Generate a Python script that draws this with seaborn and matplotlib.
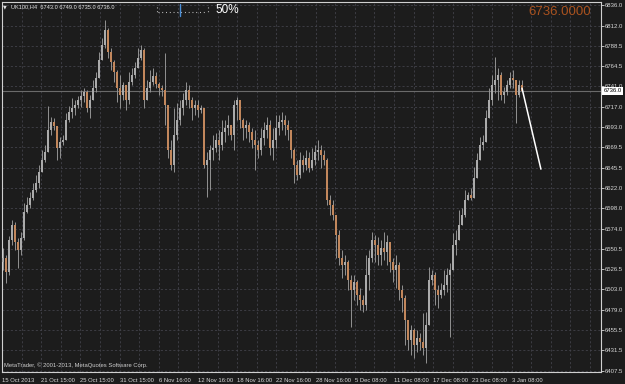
import numpy as np
import pandas as pd
import matplotlib
matplotlib.use("Agg")
import matplotlib.pyplot as plt
import matplotlib.transforms as mtrans
from matplotlib.lines import Line2D
import seaborn as sns

# ---------------- data ----------------
first_open = 6535.0
closes = [
    6540.0, 6523.5, 6561.0, 6578.5, 6558.5, 6549.0, 6563.5, 6594.0, 6602.0, 6610.0,
    6619.5, 6628.0, 6640.5, 6655.0, 6664.0, 6690.0, 6699.5, 6694.5, 6669.0, 6676.0,
    6678.0, 6701.5, 6711.0, 6716.0, 6719.5, 6725.0, 6730.0, 6734.5, 6716.0, 6725.0,
    6739.0, 6751.0, 6772.0, 6789.5, 6807.5, 6781.5, 6770.0, 6758.0, 6739.0, 6731.0,
    6743.0, 6725.0, 6746.5, 6754.5, 6762.5, 6774.5, 6784.0, 6725.0, 6739.0, 6746.5,
    6753.5, 6744.0, 6739.0, 6737.0, 6719.5, 6666.5, 6649.0, 6684.0, 6701.5, 6716.0,
    6725.0, 6737.0, 6725.0, 6716.0, 6719.5, 6713.5, 6716.0, 6649.0, 6655.0, 6666.5,
    6669.0, 6678.0, 6672.5, 6687.5, 6692.5, 6696.0, 6684.0, 6719.5, 6725.0, 6701.5,
    6692.5, 6696.0, 6687.5, 6678.0, 6672.5, 6666.5, 6680.5, 6690.0, 6696.0, 6669.0,
    6678.0, 6692.5, 6699.5, 6701.5, 6696.0, 6690.0, 6666.5, 6649.0, 6637.0, 6655.0,
    6649.0, 6657.0, 6645.5, 6655.0, 6664.0, 6666.5, 6660.5, 6655.0, 6608.0, 6602.0,
    6590.0, 6567.0, 6540.0, 6531.5, 6535.0, 6514.0, 6502.0, 6511.5, 6496.5, 6490.5,
    6484.5, 6520.0, 6540.0, 6561.0, 6555.0, 6543.5, 6551.5, 6547.0, 6558.5, 6535.0,
    6525.5, 6531.5, 6502.0, 6493.0, 6467.0, 6443.5, 6455.5, 6437.5, 6446.0, 6441.0,
    6434.0, 6461.0, 6514.0, 6520.0, 6502.0, 6496.5, 6502.0, 6508.0, 6520.0, 6525.5,
    6555.0, 6561.0, 6578.5, 6590.0, 6608.0, 6613.5, 6610.0, 6633.5, 6655.0, 6672.5,
    6676.0, 6704.0, 6725.0, 6743.0, 6748.5, 6754.5, 6731.0, 6734.5, 6743.0, 6751.0,
    6748.5, 6731.0, 6743.0, 6736.0,
]
highs = [
    6551.5, 6543.5, 6565.5, 6584.5, 6582.0, 6563.5, 6570.5, 6604.5, 6611.5, 6617.0,
    6628.0, 6637.0, 6649.0, 6666.5, 6672.5, 6718.0, 6705.0, 6704.0, 6682.0, 6682.0,
    6684.0, 6710.0, 6718.0, 6727.5, 6725.0, 6730.0, 6737.0, 6739.0, 6737.0, 6731.0,
    6748.5, 6758.0, 6781.5, 6798.0, 6819.0, 6809.5, 6786.0, 6772.0, 6760.5, 6754.5,
    6746.5, 6743.0, 6758.0, 6762.5, 6770.0, 6786.0, 6789.5, 6786.0, 6748.5, 6760.5,
    6762.5, 6758.0, 6746.5, 6743.0, 6780.5, 6713.5, 6678.0, 6716.0, 6721.5, 6725.0,
    6733.5, 6746.5, 6743.0, 6729.0, 6725.0, 6725.0, 6719.5, 6696.0, 6664.0, 6672.5,
    6684.0, 6686.5, 6690.0, 6701.5, 6701.5, 6707.5, 6696.0, 6725.0, 6729.0, 6725.0,
    6704.0, 6701.5, 6699.5, 6692.5, 6690.0, 6678.0, 6692.5, 6699.5, 6705.0, 6701.5,
    6692.5, 6707.5, 6707.5, 6711.0, 6707.5, 6701.5, 6690.0, 6669.0, 6655.0, 6664.0,
    6660.5, 6666.5, 6664.0, 6669.0, 6672.5, 6678.0, 6672.5, 6666.5, 6657.0, 6613.5,
    6608.0, 6590.0, 6572.5, 6549.0, 6543.5, 6537.5, 6520.0, 6520.0, 6514.0, 6504.5,
    6496.5, 6543.5, 6549.0, 6570.5, 6567.0, 6564.5, 6561.0, 6570.5, 6567.0, 6558.5,
    6540.0, 6543.5, 6535.0, 6508.0, 6496.5, 6461.0, 6461.0, 6457.5, 6455.5, 6452.0,
    6475.5, 6476.5, 6529.0, 6525.5, 6523.5, 6508.0, 6510.5, 6525.5, 6528.0, 6534.0,
    6569.0, 6572.5, 6596.0, 6598.5, 6619.5, 6617.0, 6622.0, 6646.5, 6663.0, 6682.0,
    6684.0, 6713.5, 6739.0, 6754.5, 6775.5, 6762.5, 6758.0, 6740.5, 6748.5, 6758.0,
    6760.5, 6743.0, 6748.5, 6749.0,
]
lows = [
    6525.5, 6510.5, 6520.0, 6555.0, 6549.0, 6528.0, 6543.5, 6561.0, 6592.5, 6598.5,
    6608.0, 6617.0, 6622.0, 6643.0, 6652.5, 6666.5, 6684.0, 6690.0, 6655.0, 6657.0,
    6672.5, 6680.5, 6699.5, 6704.0, 6707.5, 6716.0, 6717.0, 6723.0, 6711.0, 6704.0,
    6727.5, 6734.5, 6754.5, 6772.0, 6786.0, 6774.5, 6760.5, 6746.5, 6723.0, 6716.0,
    6725.0, 6713.5, 6720.5, 6743.0, 6751.0, 6766.0, 6772.0, 6716.0, 6727.5, 6734.5,
    6743.0, 6739.0, 6731.0, 6730.0, 6696.0, 6657.0, 6643.0, 6640.5, 6678.0, 6696.0,
    6707.5, 6719.5, 6716.0, 6701.5, 6707.5, 6705.0, 6710.0, 6645.5, 6611.5, 6619.5,
    6655.0, 6664.0, 6655.0, 6666.5, 6676.0, 6684.0, 6678.0, 6666.5, 6701.5, 6692.5,
    6678.0, 6680.5, 6676.0, 6669.0, 6643.0, 6657.0, 6660.5, 6672.5, 6680.5, 6660.5,
    6655.0, 6669.0, 6684.0, 6690.0, 6684.0, 6678.0, 6657.0, 6628.0, 6631.5, 6633.5,
    6640.5, 6643.0, 6640.5, 6643.0, 6649.0, 6655.0, 6645.5, 6649.0, 6602.0, 6590.0,
    6584.5, 6540.0, 6531.5, 6516.5, 6520.0, 6502.0, 6459.0, 6490.5, 6484.5, 6479.0,
    6476.5, 6479.0, 6502.0, 6535.0, 6535.0, 6531.5, 6531.5, 6537.5, 6531.5, 6523.5,
    6511.5, 6504.5, 6490.5, 6476.5, 6437.5, 6432.0, 6426.0, 6422.5, 6429.5, 6432.0,
    6426.0, 6416.5, 6467.0, 6508.0, 6484.5, 6481.0, 6493.0, 6496.5, 6500.0, 6447.0,
    6528.0, 6543.5, 6561.0, 6578.5, 6588.0, 6608.0, 6608.0, 6619.5, 6640.5, 6660.5,
    6666.5, 6682.0, 6713.5, 6719.5, 6733.5, 6725.0, 6725.0, 6721.5, 6731.0, 6739.0,
    6739.0, 6698.0, 6729.0, 6735.0,
]

price_ticks = [6836.0, 6812.0, 6788.5, 6764.5, 6741.0, 6717.0, 6693.0, 6669.5,
               6645.5, 6622.0, 6598.0, 6574.0, 6550.5, 6526.5, 6503.0, 6479.0,
               6455.5, 6431.5, 6407.5]
date_labels = ["15 Oct 2013", "21 Oct 15:00", "25 Oct 15:00", "31 Oct 15:00",
               "6 Nov 16:00", "12 Nov 16:00", "18 Nov 16:00", "22 Nov 16:00",
               "28 Nov 16:00", "5 Dec 08:00", "11 Dec 08:00", "17 Dec 08:00",
               "23 Dec 08:00", "3 Jan 08:00"]
bid_price = 6736.0
header_ohlc = "6743.0 6749.0 6735.0 6736.0"
symbol = "UK100,H4"
trend_x = [173.0, 179.3]
trend_y = [6739.0, 6644.0]

# ---------------- frame ----------------
n = len(closes)
opens = [first_open] + closes[:-1]
df = pd.DataFrame({"x": np.arange(n), "open": opens, "high": highs,
                   "low": lows, "close": closes})
df["high"] = df[["high", "open", "close"]].max(axis=1)
df["low"] = df[["low", "open", "close"]].min(axis=1)
df["up"] = df["close"] >= df["open"]

BG = "#1c1c1c"
sns.set_style("dark", {"axes.facecolor": BG, "figure.facecolor": BG})
plt.rcParams["font.family"] = ["Liberation Sans", "DejaVu Sans"]

W, H = 625, 384
fig = plt.figure(figsize=(W / 100, H / 100), dpi=100, facecolor=BG)
ax = fig.add_axes([2 / W, 12 / H, 599 / W, 370 / H], facecolor=BG)
ax.set_xlim(-1 / 3, 199.33)
ax.set_ylim(6406.0, 6840.1)

# grid
grid_col = "#42424a"
step = 6.5333
xg = -1 / 3 + step * np.arange(0, 31)
for gx in xg:
    ax.axvline(gx, color=grid_col, lw=0.6, ls=(0, (2.5, 2.5)), zorder=0.5)
for p in price_ticks:
    ax.axhline(p, color=grid_col, lw=0.6, ls=(0, (2.5, 2.5)), zorder=0.5)

# bid line
ax.axhline(bid_price, color="#6a6a6a", lw=0.8, zorder=1)

# candles
ax.vlines(df["x"], df["low"], df["high"], color="#929292", lw=0.7, zorder=2)
body_bottom = np.minimum(df["open"], df["close"])
body_h = np.maximum((df["close"] - df["open"]).abs(), 0.9)
colors = np.where(df["up"], "#ababab", "#c2875c")
ax.bar(df["x"], body_h, bottom=body_bottom, width=0.66, color=colors,
       linewidth=0, zorder=3)

# trend line
sns.lineplot(x=trend_x, y=trend_y, ax=ax, color="white", lw=1.1, zorder=4)

# axes styling
for s in ax.spines.values():
    s.set_color("#d0d0d0")
    s.set_linewidth(0.8)
ax.yaxis.tick_right()
ax.set_yticks(price_ticks)
ax.set_yticklabels([f"{v:.1f}" for v in price_ticks])
ax.tick_params(axis="y", colors="#d8d8d8", labelsize=4.3, length=2, width=0.6, pad=0.6)
date_pos = -1 / 3 + 2 * step * np.arange(len(date_labels))
ax.set_xticks(date_pos)
ax.set_xticklabels(date_labels, ha="left")
ax.tick_params(axis="x", colors="#d8d8d8", labelsize=4.2, length=3, width=0.6, pad=1)
for lab in ax.get_xticklabels():
    lab.set_horizontalalignment("left")
ax.set_xlabel("")
ax.set_ylabel("")
ax.grid(False)

# bid price box
tr = mtrans.blended_transform_factory(ax.transAxes, ax.transData)
ax.text(1.004, bid_price, f"{bid_price:.1f}", transform=tr, ha="left", va="center",
        fontsize=4.3, color="black", zorder=10, clip_on=False,
        bbox=dict(boxstyle="square,pad=0.25", fc="white", ec="white", lw=0))

# header texts
def fy(y):
    return 1 - y / H

fig.text(3 / W, fy(7), "▼", fontsize=3.5, color="#e0e0e0", va="center",
         family=["DejaVu Sans"])
fig.text(11 / W, fy(7), f"{symbol}  {header_ohlc}", fontsize=4.1,
         color="#e6e6e6", va="center")
# scale widget
fig.add_artist(Line2D([158 / W, 207 / W], [fy(11.5)] * 2, color="#cfcfcf",
                      lw=0.8, ls=(0, (0.8, 2.6))))
for sx in (157, 208):
    fig.add_artist(Line2D([sx / W, sx / W], [fy(7), fy(12)], color="#cfcfcf",
                          lw=0.8, ls=(0, (0.8, 2.6))))
fig.add_artist(Line2D([180 / W, 180 / W], [fy(4), fy(16)], color="#4a8fd8", lw=1.0))
fig.text(215 / W, fy(10), "50%", fontsize=8.5, color="white", va="center")
fig.text(591 / W, fy(12), "6736.0000", fontsize=9.5, color="#a9521f",
         ha="right", va="center")
fig.text(4 / W, fy(365), "MetaTrader, \u00a9 2001-2013, MetaQuotes Software Corp.",
         fontsize=4.2, color="#cfcfcf", va="center")

fig.savefig("out.png", dpi=100, facecolor=BG)
